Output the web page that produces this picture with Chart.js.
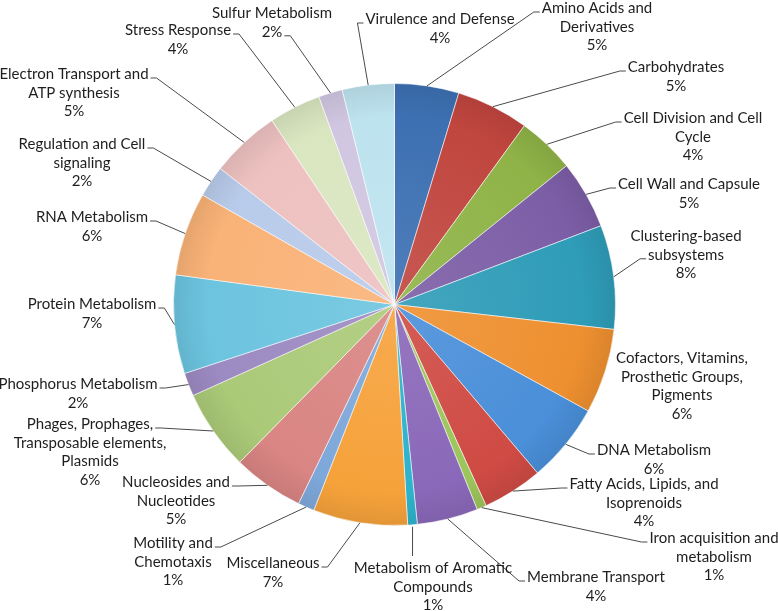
<!DOCTYPE html>
<html>
<head>
<meta charset="utf-8">
<script src="https://cdn.jsdelivr.net/npm/chart.js@4.4.1/dist/chart.umd.min.js"></script>
<style>
  html, body { margin: 0; padding: 0; background: #fff; }
  #wrap { width: 778px; height: 611px; position: relative; }
</style>
</head>
<body>
<div id="wrap"><canvas id="pie"></canvas></div>
<script>
// ---- data (share of subsystem features) ----
const categories = [
    ['Amino Acids and', 'Derivatives'],
    ['Carbohydrates'],
    ['Cell Division and Cell', 'Cycle'],
    ['Cell Wall and Capsule'],
    ['Clustering-based', 'subsystems'],
    ['Cofactors, Vitamins,', 'Prosthetic Groups,', 'Pigments'],
    ['DNA Metabolism'],
    ['Fatty Acids, Lipids, and', 'Isoprenoids'],
    ['Iron acquisition and', 'metabolism'],
    ['Membrane Transport'],
    ['Metabolism of Aromatic', 'Compounds'],
    ['Miscellaneous'],
    ['Motility and', 'Chemotaxis'],
    ['Nucleosides and', 'Nucleotides'],
    ['Phages, Prophages,', 'Transposable elements,', 'Plasmids'],
    ['Phosphorus Metabolism'],
    ['Protein Metabolism'],
    ['RNA Metabolism'],
    ['Regulation and Cell', 'signaling'],
    ['Electron Transport and', 'ATP synthesis'],
    ['Stress Response'],
    ['Sulfur Metabolism'],
    ['Virulence and Defense']
];
const shares = [4.7, 5.3, 4.2, 5.0, 7.6, 6.2, 5.8, 4.4, 0.7, 4.45, 0.7, 6.9, 1.2,
                5.2, 5.9, 1.7, 7.2, 6.1, 2.3, 5.1, 3.8, 1.75, 3.8];

// ---- styling ----
const sliceColors = [
    '#3d70b2', '#c0463f', '#8fb347', '#7c5ea6', '#2f9cb8', '#ee9030',
    '#4a8fd9', '#cf4b44', '#9cc55a', '#8a68b9', '#2eb2cb', '#f6a23b',
    '#7ea8da', '#d98583', '#abca78', '#9c8ac2', '#6cc4df', '#f9b277',
    '#b8cbea', '#edc1c0', '#d9e6c0', '#d0c6e1', '#bde3ef'
];

// first-line centre of every label, and where its leader line attaches
// side: L = left end, R = right end, T = top, N = no line; ln = line index
const labelLayout = [
    { x: 597, y: 8,   side: 'L', ln: 0 },
    { x: 676, y: 67,  side: 'L', ln: 0 },
    { x: 693, y: 118, side: 'L', ln: 0 },
    { x: 689, y: 184, side: 'L', ln: 0 },
    { x: 686, y: 236, side: 'L', ln: 1 },
    { x: 682, y: 358, side: 'N', ln: 0 },
    { x: 654, y: 450, side: 'L', ln: 0 },
    { x: 644, y: 484, side: 'L', ln: 0 },
    { x: 714, y: 538, side: 'L', ln: 0 },
    { x: 596, y: 577, side: 'L', ln: 0 },
    { x: 433, y: 568, side: 'T', ln: 0 },
    { x: 273, y: 563, side: 'R', ln: 0 },
    { x: 173, y: 543, side: 'R', ln: 0 },
    { x: 176, y: 482, side: 'R', ln: 0 },
    { x: 90,  y: 424, side: 'R', ln: 0 },
    { x: 78,  y: 384, side: 'R', ln: 0 },
    { x: 92,  y: 304, side: 'R', ln: 0 },
    { x: 92,  y: 217, side: 'R', ln: 0 },
    { x: 82,  y: 144, side: 'R', ln: 0 },
    { x: 74,  y: 74,  side: 'R', ln: 0 },
    { x: 178, y: 30,  side: 'R', ln: 0 },
    { x: 272, y: 13,  side: 'R', ln: 1 },
    { x: 440, y: 19,  side: 'L', ln: 0 }
];
const LINE_H = 18.8;
const LABEL_FONT = '15px Lato, "Open Sans", sans-serif';

const total = shares.reduce((a, b) => a + b, 0);

// mix a hex colour toward white (amt > 0) or black (amt < 0)
function shade(hex, amt) {
    const n = parseInt(hex.slice(1), 16);
    const ch = [(n >> 16) & 255, (n >> 8) & 255, n & 255].map(c =>
        Math.round(amt >= 0 ? c + (255 - c) * amt : c * (1 + amt)));
    return 'rgb(' + ch.join(',') + ')';
}

// soft radial shading like the office chart style
function sliceFill(c) {
    const base = sliceColors[c.dataIndex];
    const area = c.chart.chartArea;
    if (!area) return base;
    const cx = (area.left + area.right) / 2;
    const cy = (area.top + area.bottom) / 2;
    const r = Math.min(area.right - area.left, area.bottom - area.top) / 2;
    const g = c.chart.ctx.createRadialGradient(cx, cy, 0, cx, cy, r);
    g.addColorStop(0, shade(base, 0.10));
    g.addColorStop(0.85, base);
    g.addColorStop(1, shade(base, -0.08));
    return g;
}

// ---- outside labels with leader lines ----
const leaderLabels = {
    id: 'leaderLabels',
    afterDraw(chart) {
        const ctx = chart.ctx;
        const arcs = chart.getDatasetMeta(0).data;
        ctx.save();
        ctx.font = LABEL_FONT;
        ctx.textAlign = 'center';
        ctx.textBaseline = 'middle';
        arcs.forEach((arc, i) => {
            const p = arc.getProps(['x', 'y', 'startAngle', 'endAngle', 'outerRadius'], true);
            const mid = (p.startAngle + p.endAngle) / 2;
            const ax = p.x + Math.cos(mid) * p.outerRadius;
            const ay = p.y + Math.sin(mid) * p.outerRadius;

            const lay = labelLayout[i];
            const lines = categories[i].concat([Math.round(shares[i] / total * 100) + '%']);

            ctx.fillStyle = '#1e1e1e';
            lines.forEach((t, k) => ctx.fillText(t, lay.x, lay.y + k * LINE_H));

            if (lay.side === 'N') return;
            ctx.strokeStyle = '#4a4a4a';
            ctx.lineWidth = 1;
            ctx.beginPath();
            if (lay.side === 'T') {
                ctx.moveTo(ax, ay + 2);
                ctx.lineTo(ax, lay.y - 12);
            } else {
                const w = ctx.measureText(lines[lay.ln]).width;
                const ly = lay.y + lay.ln * LINE_H + 4;
                const dir = lay.side === 'L' ? -1 : 1;
                const ex = lay.x + dir * (w / 2 + 2);
                ctx.moveTo(ex, ly);
                ctx.lineTo(ex + dir * 6, ly);
                ctx.lineTo(ax, ay);
            }
            ctx.stroke();
        });
        ctx.restore();
    }
};

const canvas = document.getElementById('pie');
canvas.width = 778;
canvas.height = 611;

new Chart(canvas.getContext('2d'), {
    type: 'pie',
    data: {
        labels: categories,
        datasets: [{
            data: shares,
            backgroundColor: sliceFill,
            borderColor: 'rgba(255,255,255,0.55)',
            borderWidth: 1
        }]
    },
    options: {
        responsive: false,
        animation: false,
        layout: { padding: { top: 83, bottom: 85, left: 173, right: 162 } },
        plugins: {
            legend: { display: false },
            tooltip: { enabled: false }
        }
    },
    plugins: [leaderLabels]
});
</script>
</body>
</html>
